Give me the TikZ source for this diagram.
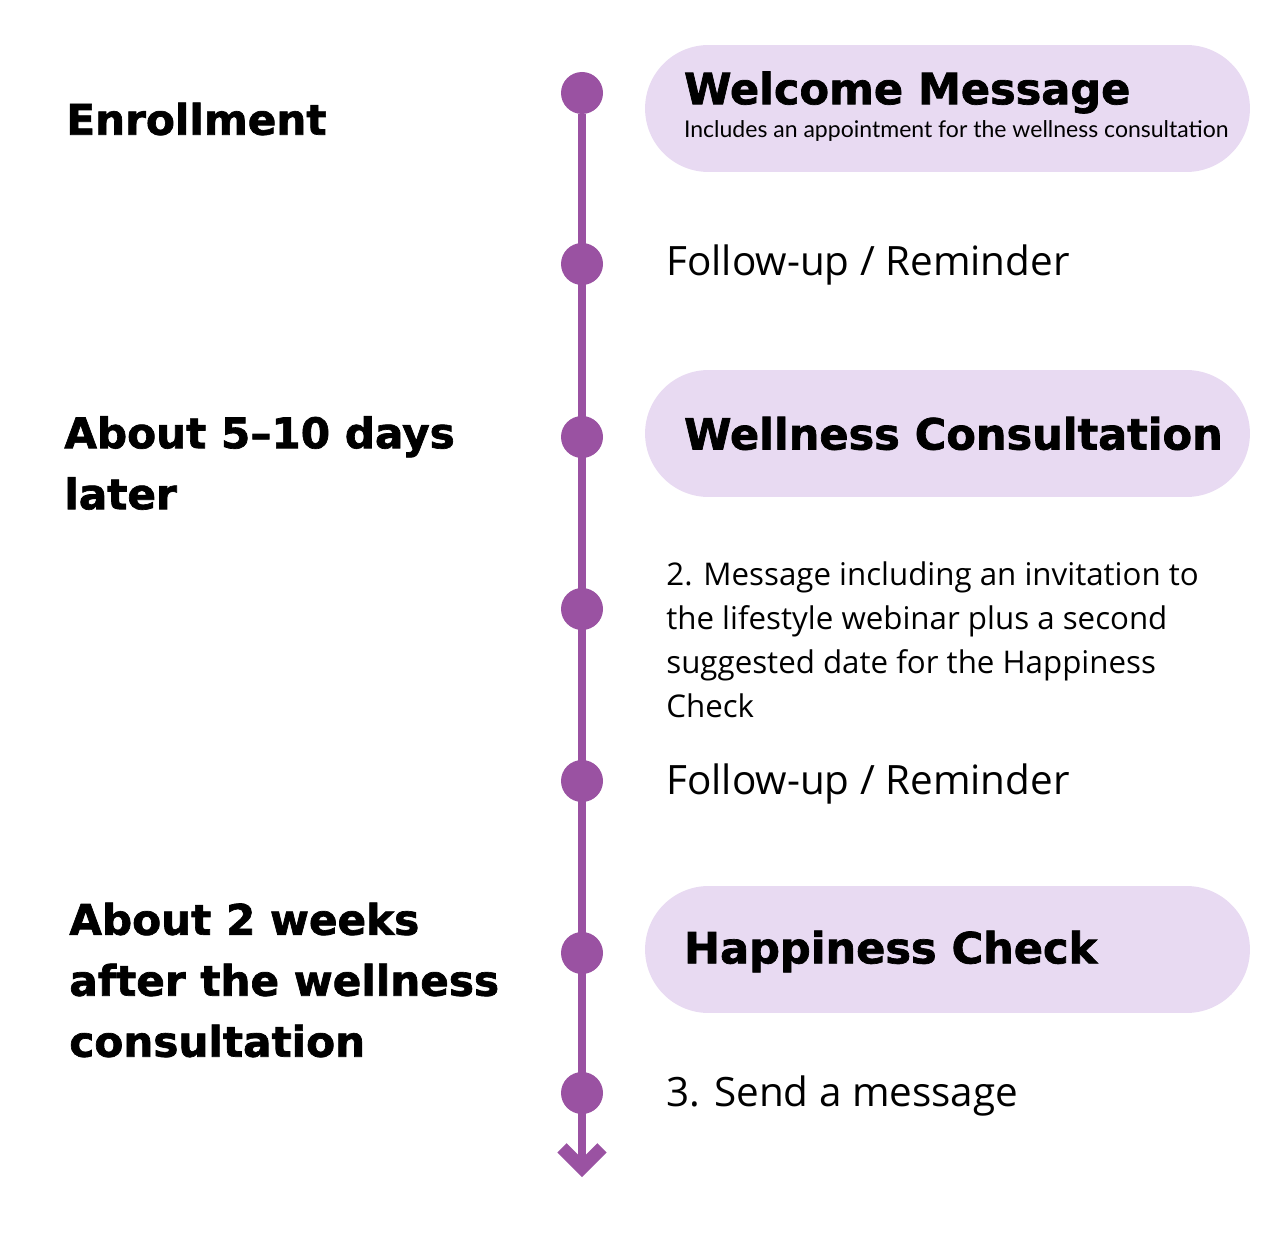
\documentclass[tikz,border=0pt]{standalone}
\usepackage{fontspec}
\setmainfont{Open Sans}
\newfontfamily\headfont{DejaVu Sans}[BoldFeatures={FakeBold=1.6}]
\newfontfamily\subfont{Lato}
\usepackage{tikz}
\usetikzlibrary{calc}
\usetikzlibrary{arrows.meta}
\definecolor{timeline}{HTML}{9A52A2}
\definecolor{pillfill}{HTML}{E8DAF2}
\tikzstyle{pill} = [rectangle, rounded corners=1.27cm,
minimum width=12.1cm,
minimum height=2.54cm,
fill=pillfill, draw=none]
\tikzstyle{dot} = [circle, fill=timeline, minimum size=0.84cm, inner sep=0pt]
\tikzstyle{stage} = [anchor=west, align=left, inner sep=0pt,
font=\headfont\bfseries\fontsize{24}{34.7}\selectfont]
\tikzstyle{title} = [anchor=west, inner sep=0pt,
font=\headfont\bfseries\fontsize{24.5}{30}\selectfont]
\tikzstyle{event} = [anchor=west, align=left, inner sep=0pt,
font=\fontsize{23}{28}\selectfont]
\tikzstyle{line} = [line width=0.16cm, draw=timeline]

\begin{document}
\begin{tikzpicture} [x=0.02cm, y=-0.02cm]
    \useasboundingbox (0,0) rectangle (1280,1236);

    % the timeline dots
    \node (d1) [dot] at (582,93) {};
    \node (d2) [dot] at ($(d1) + (0,171)$) {};
    \node (d3) [dot] at ($(d2) + (0,173)$) {};
    \node (d4) [dot] at ($(d3) + (0,172)$) {};
    \node (d5) [dot] at ($(d4) + (0,172)$) {};
    \node (d6) [dot] at ($(d5) + (0,172)$) {};
    \node (d7) [dot] at ($(d6) + (0,140)$) {};
    \coordinate (tip) at ($(d7) + (0,84)$);

    % the pills
    \node (Welcome) [pill] at ($(d1) + (365.5,15.5)$) {};
    \node (Wellness) [pill] at ($(d3) + (365.5,-3.5)$) {};
    \node (Happiness) [pill] at ($(d6) + (365.5,-3.5)$) {};

    % the connector
    \draw [line, -{Straight Barb[length=0.4cm, width=0.8cm, line width=0.26cm]}] (d1) -- (tip);

    % texts on the right
    \node (WelcomeT) [title] at ($(Welcome.west) + (39,-16)$) {Welcome Message};
    \node (WelcomeS) [anchor=west, inner sep=0pt, font=\subfont\fontsize{13.1}{15}\selectfont] at ($(Welcome.west) + (39,23)$) {Includes an appointment for the wellness consultation};
    \node (follow1) [event] at ($(d2) + (84,1)$) {Follow-up / Reminder};
    \node (WellnessT) [title] at ($(Wellness.west) + (39,0)$) {Wellness Consultation};
    \node (invite) [event, font=\fontsize{17.8}{25}\selectfont] at ($(d4) + (84,31)$) {2. Message including an invitation to\\the lifestyle webinar plus a second\\suggested date for the Happiness\\Check};
    \node (follow2) [event] at ($(d5) + (84,3)$) {Follow-up / Reminder};
    \node (HappinessT) [title] at ($(Happiness.west) + (39,2)$) {Happiness Check};
    \node (send) [event] at ($(d7) + (84,3)$) {3. Send a message};

    % annotations on the left
    \node (enroll) [stage] at (66,119) {Enrollment};
    \node (days) [stage] at (64,463) {About 5–10 days\\later};
    \node (weeks) [stage] at (69,980) {About 2 weeks\\after the wellness\\consultation};

\end{tikzpicture}
\end{document}
